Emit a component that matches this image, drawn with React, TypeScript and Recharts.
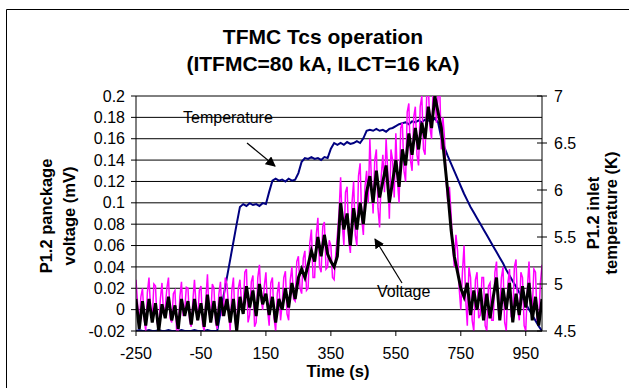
import React from 'react';
import { ComposedChart, Line, XAxis, YAxis, CartesianGrid } from 'recharts';

// sample times (s) for the filtered voltage and temperature records
const times = [
  -250, -240, -230, -220, -210, -200, -190, -180, -170, -160,
  -150, -140, -130, -120, -110, -100, -90, -80, -70, -60,
  -50, -40, -30, -20, -10, 0, 10, 20, 30, 40,
  50, 60, 70, 80, 90, 100, 110, 120, 130, 140,
  150, 160, 170, 180, 190, 200, 210, 220, 230, 240,
  250, 260, 270, 280, 290, 300, 310, 320, 330, 340,
  350, 360, 370, 380, 390, 400, 410, 420, 430, 440,
  450, 460, 470, 480, 490, 500, 510, 520, 530, 540,
  550, 560, 570, 580, 590, 600, 610, 620, 630, 640,
  650, 660, 670, 680, 690, 700, 710, 720, 730, 740,
  750, 760, 770, 780, 790, 800, 810, 820, 830, 840,
  850, 860, 870, 880, 890, 900, 910, 920, 930, 940,
  950, 960, 970, 980, 990, 1000,
];

// sample times (s) for the raw voltage record
const rawTimes = [
  -250, -245, -240, -235, -230, -225, -220, -215, -210, -205,
  -200, -195, -190, -185, -180, -175, -170, -165, -160, -155,
  -150, -145, -140, -135, -130, -125, -120, -115, -110, -105,
  -100, -95, -90, -85, -80, -75, -70, -65, -60, -55,
  -50, -45, -40, -35, -30, -25, -20, -15, -10, -5,
  0, 5, 10, 15, 20, 25, 30, 35, 40, 45,
  50, 55, 60, 65, 70, 75, 80, 85, 90, 95,
  100, 105, 110, 115, 120, 125, 130, 135, 140, 145,
  150, 155, 160, 165, 170, 175, 180, 185, 190, 195,
  200, 205, 210, 215, 220, 225, 230, 235, 240, 245,
  250, 255, 260, 265, 270, 275, 280, 285, 290, 295,
  300, 305, 310, 315, 320, 325, 330, 335, 340, 345,
  350, 355, 360, 365, 370, 375, 380, 385, 390, 395,
  400, 405, 410, 415, 420, 425, 430, 435, 440, 445,
  450, 455, 460, 465, 470, 475, 480, 485, 490, 495,
  500, 505, 510, 515, 520, 525, 530, 535, 540, 545,
  550, 555, 560, 565, 570, 575, 580, 585, 590, 595,
  600, 605, 610, 615, 620, 625, 630, 635, 640, 645,
  650, 655, 660, 665, 670, 675, 680, 685, 690, 695,
  700, 705, 710, 715, 720, 725, 730, 735, 740, 745,
  750, 755, 760, 765, 770, 775, 780, 785, 790, 795,
  800, 805, 810, 815, 820, 825, 830, 835, 840, 845,
  850, 855, 860, 865, 870, 875, 880, 885, 890, 895,
  900, 905, 910, 915, 920, 925, 930, 935, 940, 945,
  950, 955, 960, 965, 970, 975, 980, 985, 990, 995,
  1000,
];

// raw pancake voltage (mV) - magenta
const rawVoltage = [
  0.028, 0.005, -0.015, 0.012, 0.02, -0.008, -0.02, 0.016, 0.03, 0.0,
  -0.01, 0.024, 0.022, -0.012, -0.018, 0.01, 0.025, -0.005, 0.002, 0.02,
  0.03, -0.008, -0.012, 0.015, 0.018, -0.02, -0.02, 0.012, 0.026, -0.006,
  0.0, 0.021, 0.02, -0.01, -0.016, 0.008, 0.028, 0.004, -0.01, 0.018,
  0.022, -0.014, -0.02, 0.01, 0.033, -0.004, -0.008, 0.024, 0.02, -0.012,
  -0.018, 0.014, 0.026, -0.006, 0.004, 0.03, 0.024, 0.002, -0.02, 0.018,
  0.03, -0.01, -0.02, 0.02, 0.028, 0.006, 0.0, 0.035, 0.038, -0.012,
  -0.005, 0.026, 0.032, -0.016, -0.012, 0.03, 0.042, 0.01, 0.0, 0.022,
  0.035, 0.0, -0.015, 0.025, 0.03, -0.008, -0.02, 0.015, 0.026, -0.01,
  0.005, 0.03, 0.036, -0.004, -0.01, 0.028, 0.04, 0.01, 0.008, 0.045,
  0.05, 0.02, 0.015, 0.048, 0.055, 0.018, 0.02, 0.062, 0.075, 0.03,
  0.03, 0.07, 0.086, 0.04, 0.035, 0.078, 0.082, 0.038, 0.04, 0.065,
  0.06, 0.03, 0.028, 0.052, 0.07, 0.09, 0.124, 0.08, 0.06, 0.11,
  0.115, 0.065, 0.053, 0.1, 0.12, 0.07, 0.06, 0.125, 0.137, 0.085,
  0.07, 0.115, 0.13, 0.1, 0.16, 0.12, 0.09, 0.14, 0.15, 0.095,
  0.077, 0.125, 0.145, 0.11, 0.16, 0.13, 0.085, 0.15, 0.14, 0.105,
  0.165, 0.12, 0.1, 0.17, 0.175, 0.13, 0.12, 0.185, 0.193, 0.14,
  0.13, 0.18, 0.19, 0.145, 0.135, 0.19, 0.2, 0.15, 0.145, 0.2,
  0.21, 0.17, 0.16, 0.21, 0.21, 0.175, 0.2, 0.21, 0.15, 0.18,
  0.16, 0.12, 0.1, 0.115, 0.09, 0.06, 0.04, 0.07, 0.055, 0.02,
  0.0, 0.035, 0.06, 0.01, -0.015, 0.04, 0.03, -0.01, -0.02, 0.028,
  0.035, -0.008, -0.005, 0.03, 0.03, -0.015, -0.02, 0.022, 0.025, -0.01,
  -0.01, 0.035, 0.045, 0.0, 0.0, 0.03, 0.04, -0.012, -0.02, 0.025,
  0.038, -0.006, -0.005, 0.04, 0.047, 0.002, -0.01, 0.035, 0.03, -0.015,
  -0.02, 0.02, 0.045, 0.005, 0.0, 0.038, 0.035, -0.01, -0.01, 0.025,
  0.042,
];

// filtered pancake voltage (mV) - black
const filteredVoltage = [
  0.01, -0.018, 0.008, -0.015, 0.01, -0.012, 0.006, -0.02, 0.005, -0.008,
  0.012, -0.01, 0.004, -0.018, 0.01, -0.006, 0.008, -0.014, 0.01, -0.01,
  0.006, -0.016, 0.014, -0.012, 0.008, -0.015, 0.012, -0.006, 0.01, -0.012,
  0.01, -0.02, 0.012, -0.004, 0.022, 0.002, 0.018, -0.006, 0.024, 0.005,
  0.015, -0.005, 0.012, -0.012, 0.01, 0.0, 0.02, 0.002, 0.025, 0.01,
  0.03, 0.038, 0.03, 0.042, 0.055, 0.045, 0.068, 0.05, 0.07, 0.052,
  0.045, 0.04, 0.05, 0.1, 0.075, 0.09, 0.06, 0.095, 0.075, 0.1,
  0.08, 0.11, 0.125, 0.1, 0.13, 0.105, 0.12, 0.135, 0.1, 0.12,
  0.14, 0.115, 0.15, 0.135, 0.165, 0.145, 0.17, 0.15, 0.175, 0.16,
  0.19, 0.17, 0.2, 0.185, 0.17, 0.14, 0.11, 0.075, 0.05, 0.035,
  0.02, 0.012, 0.025, -0.005, 0.018, 0.0, 0.02, -0.01, 0.015, -0.008,
  0.012, 0.03, -0.01, 0.02, 0.0, 0.025, -0.012, 0.015, -0.005, 0.022,
  0.002, 0.025, -0.01, 0.012, -0.015, 0.01,
];

// P1.2 inlet temperature (K) - navy
const temperature = [
  4.5, 4.51, 4.5, 4.5, 4.51, 4.5, 4.5, 4.51, 4.5, 4.5,
  4.51, 4.5, 4.5, 4.5, 4.51, 4.5, 4.5, 4.5, 4.51, 4.5,
  4.5, 4.5, 4.51, 4.5, 4.5, 4.5, 4.69, 4.88, 5.07, 5.26,
  5.45, 5.64, 5.82, 5.85, 5.83, 5.86, 5.84, 5.85, 5.83, 5.86,
  5.85, 5.98, 6.1, 6.12, 6.1, 6.11, 6.09, 6.12, 6.1, 6.11,
  6.18, 6.3, 6.34, 6.33, 6.35, 6.33, 6.34, 6.32, 6.35, 6.34,
  6.44, 6.5, 6.48, 6.5, 6.48, 6.51, 6.49, 6.5, 6.52, 6.5,
  6.55, 6.63, 6.64, 6.63, 6.65, 6.63, 6.64, 6.62, 6.65, 6.66,
  6.68, 6.7, 6.71, 6.72, 6.7, 6.73, 6.72, 6.74, 6.72, 6.75,
  6.74, 6.73, 6.76, 6.72, 6.55, 6.45, 6.36, 6.28, 6.2, 6.12,
  6.04, 5.96, 5.89, 5.82, 5.76, 5.7, 5.64, 5.58, 5.52, 5.46,
  5.4, 5.34, 5.28, 5.22, 5.15, 5.09, 5.03, 4.97, 4.91, 4.85,
  4.79, 4.73, 4.67, 4.61, 4.55, 4.5,
];

const xTicks = [-250, -50, 150, 350, 550, 750, 950];
const voltageTicks = [-0.02, 0, 0.02, 0.04, 0.06, 0.08, 0.1, 0.12, 0.14, 0.16, 0.18, 0.2];
const tempTicks = [4.5, 5, 5.5, 6, 6.5, 7];

const data = times.map((t, i) => ({
  t,
  filt: filteredVoltage[i],
  temp: temperature[i],
}));

const rawData = rawTimes.map((t, i) => ({ t, raw: rawVoltage[i] }));

const FONT = '"Liberation Sans", Arial, sans-serif';

const RightTick = (props: any) => {
  const { x, y, payload } = props;
  const ax = x - 12;
  return (
    <g>
      <line x1={ax - 5} x2={ax + 5} y1={y} y2={y} stroke="#000" strokeWidth={1} />
      <text x={x} y={y} dy="0.355em" textAnchor="start" fill="#000" fontSize={16} fontFamily={FONT}>
        {payload.value}
      </text>
    </g>
  );
};

export default function App() {
  return (
    <div style={{ position: 'absolute', left: 0, top: 0, width: 629, height: 388, background: '#fff' }}>
      <ComposedChart
        width={629}
        height={388}
        data={data}
        margin={{ top: 96, right: 0, bottom: 0, left: 0 }}
      >
        <CartesianGrid yAxisId="v" vertical={false} stroke="#000" strokeWidth={1} />
        <XAxis
          dataKey="t"
          type="number"
          domain={[-250, 1000]}
          ticks={xTicks}
          allowDataOverflow
          height={57}
          tickSize={5}
          tickMargin={12}
          axisLine={{ stroke: '#000' }}
          tickLine={{ stroke: '#000' }}
          tick={{ fill: '#000', fontSize: 16, fontFamily: FONT }}
          interval={0}
        />
        <YAxis
          yAxisId="v"
          orientation="left"
          type="number"
          domain={[-0.02, 0.2]}
          ticks={voltageTicks}
          allowDataOverflow
          width={136}
          tickSize={5}
          tickMargin={6}
          axisLine={{ stroke: '#000' }}
          tickLine={{ stroke: '#000' }}
          tick={{ fill: '#000', fontSize: 16, fontFamily: FONT }}
          interval={0}
        />
        <YAxis
          yAxisId="T"
          orientation="right"
          type="number"
          domain={[4.5, 7]}
          ticks={tempTicks}
          allowDataOverflow
          width={87}
          tickSize={0}
          tickMargin={12}
          axisLine={{ stroke: '#000' }}
          tickLine={false}
          tick={<RightTick />}
          interval={0}
        />
        <Line
          yAxisId="T"
          dataKey="temp"
          type="linear"
          stroke="#000080"
          strokeWidth={2}
          dot={false}
          isAnimationActive={false}
        />
        <Line
          yAxisId="v"
          data={rawData}
          dataKey="raw"
          type="linear"
          stroke="#FF00FF"
          strokeWidth={1.5}
          dot={false}
          isAnimationActive={false}
        />
        <Line
          yAxisId="v"
          dataKey="filt"
          type="linear"
          stroke="#000000"
          strokeWidth={3}
          dot={false}
          isAnimationActive={false}
        />
      </ComposedChart>
      <svg
        width={629}
        height={388}
        style={{ position: 'absolute', left: 0, top: 0, pointerEvents: 'none' }}
        fontFamily={FONT}
      >
        <defs>
          <marker id="arrowHead" viewBox="0 0 10 10" refX="9" refY="5" markerWidth="10" markerHeight="10" markerUnits="userSpaceOnUse" orient="auto">
            <path d="M0,0 L10,5 L0,10 z" fill="#000" />
          </marker>
        </defs>
        <path d="M6.5,388 L6.5,9.5 L629,9.5" fill="none" stroke="#000" strokeWidth={1} />
        <text x={323} y={44} textAnchor="middle" fontSize={21} fontWeight="bold" fill="#000">TFMC Tcs operation</text>
        <text x={323} y={71} textAnchor="middle" fontSize={21} fontWeight="bold" fill="#000">(ITFMC=80 kA, ILCT=16 kA)</text>
        <text transform="translate(46,216) rotate(-90)" textAnchor="middle" dy="0.35em" fontSize={16.5} fontWeight="bold" fill="#000">P1.2 panckage</text>
        <text transform="translate(69,216) rotate(-90)" textAnchor="middle" dy="0.35em" fontSize={16.5} fontWeight="bold" fill="#000">voltage (mV)</text>
        <text transform="translate(593,213) rotate(-90)" textAnchor="middle" dy="0.35em" fontSize={16.5} fontWeight="bold" fill="#000">P1.2 inlet</text>
        <text transform="translate(611,213) rotate(-90)" textAnchor="middle" dy="0.35em" fontSize={16.5} fontWeight="bold" fill="#000">temperature (K)</text>
        <text x={338} y={377} textAnchor="middle" fontSize={16.5} fontWeight="bold" fill="#000">Time (s)</text>
        <text x={183} y={123} fontSize={16} fill="#000">Temperature</text>
        <text x={377} y={297} fontSize={16} fill="#000">Voltage</text>
        <line x1={247} y1={143} x2={275} y2={166} stroke="#000" strokeWidth={1.2} markerEnd="url(#arrowHead)" />
        <line x1={402} y1={283} x2={375} y2={239} stroke="#000" strokeWidth={1.2} markerEnd="url(#arrowHead)" />
      </svg>
    </div>
  );
}
